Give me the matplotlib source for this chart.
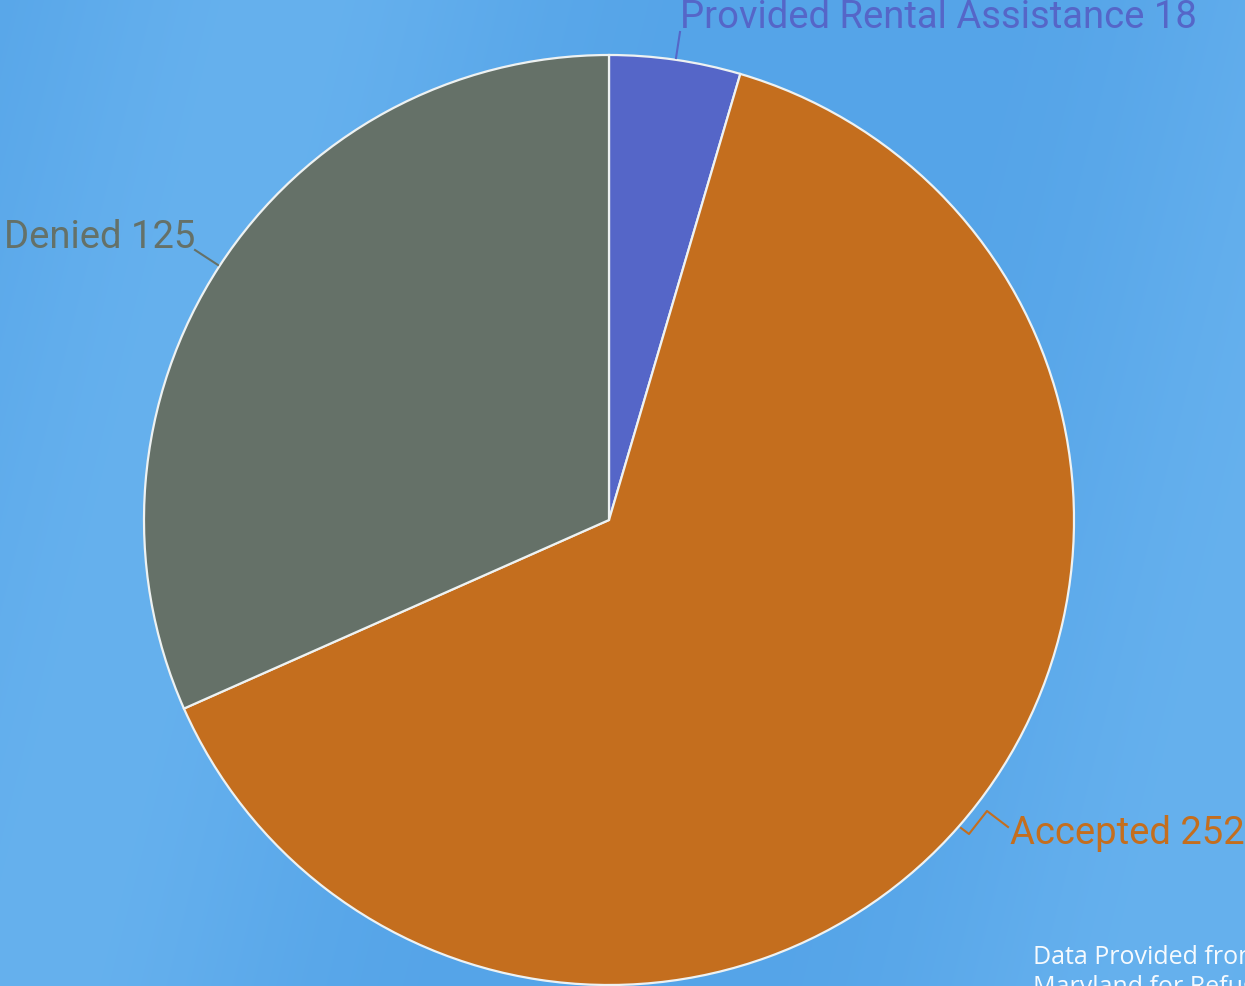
import numpy as np
import matplotlib
matplotlib.use("Agg")
import matplotlib.pyplot as plt

labels = ["Provided Rental Assistance", "Accepted", "Denied"]
values = [18, 252, 125]
colors = ["#5566c8", "#c46e1e", "#657168"]
footer_lines = ["Data Provided from", "Maryland for Refugees"]

W, H = 1245, 986
fig = plt.figure(figsize=(W / 100, H / 100), dpi=100)

# background
bg = fig.add_axes([0, 0, 1, 1])
bg.set_axis_off()
yy, xx = np.mgrid[0:H, 0:W]
d = xx + 0.25 * yy
base = np.array([0x55, 0xa4, 0xe8]) / 255.0
light = np.array([0x66, 0xb1, 0xee]) / 255.0
t = 0.5 + 0.5 * np.sin(d / 180.0)
t = t ** 2
img = base[None, None, :] * (1 - t[..., None]) + light[None, None, :] * t[..., None]
bg.imshow(img, extent=[0, W, 0, H], origin="upper", aspect="auto")
bg.set_xlim(0, W)
bg.set_ylim(0, H)

ax = fig.add_axes([0, 0, 1, 1])
ax.set_axis_off()
ax.set_xlim(0, W)
ax.set_ylim(0, H)
ax.set_aspect("equal")
ax.patch.set_alpha(0)

cx, cy, r = 609, H - 520, 465
ax.pie(values, colors=colors, startangle=90, counterclock=False,
       center=(cx, cy), radius=r, frame=True,
       wedgeprops=dict(edgecolor="#eef2f2", linewidth=1.6))
ax.set_xlim(0, W)
ax.set_ylim(0, H)
ax.set_axis_off()

fs = 27.5
font = "Roboto"
wt = "normal"
# Provided Rental Assistance
ax.plot([676, 680], [H - 58, H - 32], color=colors[0], lw=1.5)
ax.text(680, H - 18, f"{labels[0]} {values[0]}", color=colors[0], fontsize=fs,
        family=font, weight=wt, va="center", ha="left")
# Denied
ax.plot([218, 195], [H - 265, H - 250], color=colors[2], lw=1.5)
ax.text(4, H - 238, f"{labels[2]} {values[2]}", color=colors[2], fontsize=fs,
        family=font, weight=wt, va="center", ha="left")
# Accepted
ax.plot([961, 969, 987, 1008], [H - 828, H - 834, H - 811, H - 827], color=colors[1], lw=1.5)
ax.text(1010, H - 833, f"{labels[1]} {values[1]}", color=colors[1], fontsize=fs,
        family=font, weight=wt, va="center", ha="left")

ax.text(1033, H - 957, footer_lines[0], color="white", fontsize=18, family="Open Sans",
        va="center", ha="left", alpha=0.95)
ax.text(1033, H - 988, footer_lines[1], color="white", fontsize=18, family="Open Sans",
        va="center", ha="left", alpha=0.95)

fig.savefig("out.png", dpi=100)
